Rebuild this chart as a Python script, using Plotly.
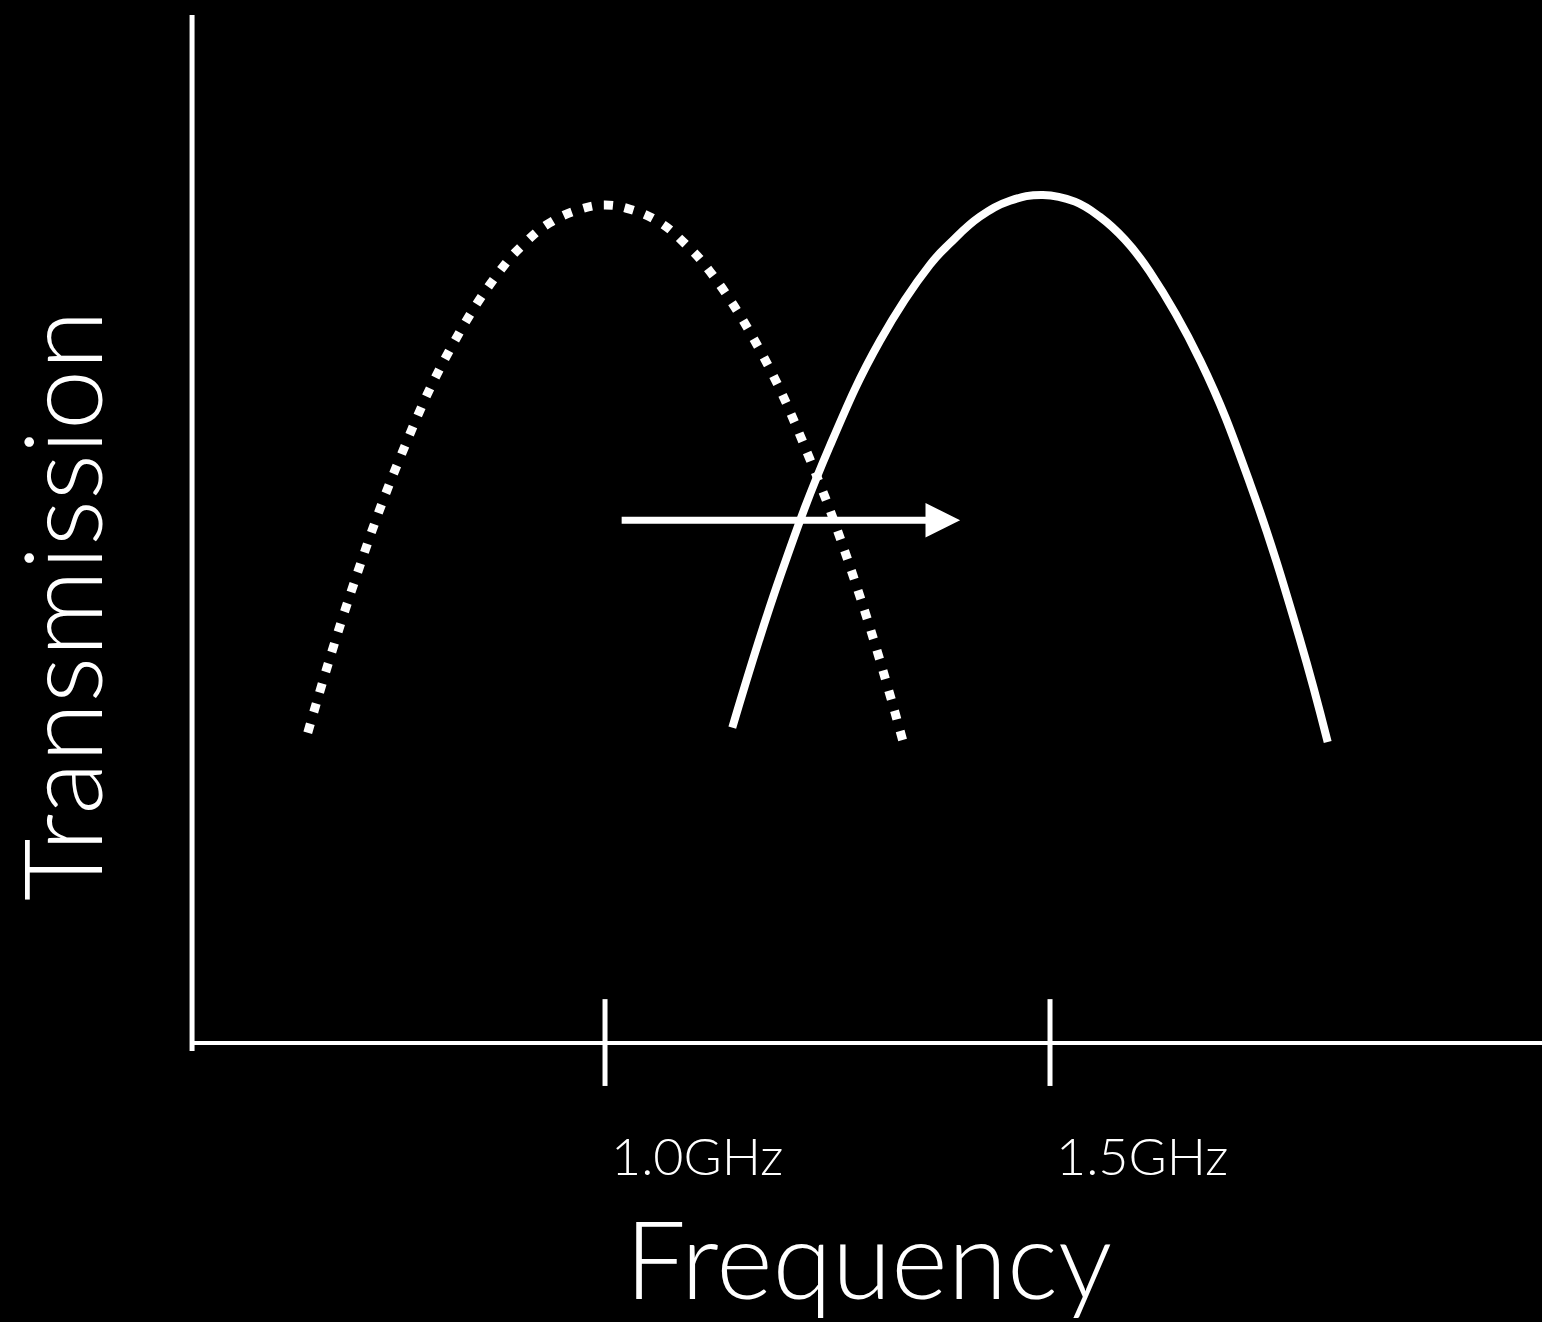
import plotly.graph_objects as go

# Frequency in GHz, transmission in arbitrary units
BEFORE_FREQ = [0.666, 0.714, 0.770, 0.826, 0.882, 0.910, 0.938, 0.972, 1.000,
               1.028, 1.062, 1.090, 1.118, 1.174, 1.230, 1.287, 1.335]
BEFORE_TRANS = [0.368, 0.533, 0.695, 0.823, 0.916, 0.949, 0.973, 0.989, 0.994,
                0.989, 0.973, 0.948, 0.915, 0.822, 0.693, 0.528, 0.357]

AFTER_FREQ = [1.143, 1.197, 1.253, 1.309, 1.365, 1.388, 1.421, 1.455, 1.492,
              1.528, 1.556, 1.584, 1.612, 1.669, 1.725, 1.781, 1.812]
AFTER_TRANS = [0.374, 0.554, 0.709, 0.833, 0.923, 0.949, 0.980, 0.999, 1.006,
               0.998, 0.980, 0.953, 0.915, 0.809, 0.663, 0.478, 0.357]

TICK_VALUES = [1.0, 1.5]
TICK_LABELS = ["1.0GHz", "1.5GHz"]

SHIFT_FROM = 1.017
SHIFT_TO = 1.399
SHIFT_LEVEL = 0.620

X_RANGE = [0.3202, 2.0528]
Y_RANGE = [-0.331, 1.2372]
AXIS_X0 = 0.536
AXIS_TOP = 1.2195

FONT = "Lato, 'Open Sans', sans-serif"
WHITE = "#ffffff"

fig = go.Figure()

# axis lines
fig.add_trace(go.Scatter(x=[AXIS_X0, AXIS_X0], y=[-0.0095, AXIS_TOP], mode="lines",
                         line=dict(color=WHITE, width=5), hoverinfo="skip"))
fig.add_trace(go.Scatter(x=[AXIS_X0, X_RANGE[1]], y=[0, 0], mode="lines",
                         line=dict(color=WHITE, width=4), hoverinfo="skip"))

# crossing tick marks
tx, ty = [], []
for v in TICK_VALUES:
    tx += [v, v, None]
    ty += [0.052, -0.051, None]
fig.add_trace(go.Scatter(x=tx, y=ty, mode="lines",
                         line=dict(color=WHITE, width=5), hoverinfo="skip"))

# passband before the shift (dotted) and after (solid)
fig.add_trace(go.Scatter(x=BEFORE_FREQ, y=BEFORE_TRANS, mode="lines",
                         line=dict(color=WHITE, width=9, dash="9px,12px",
                                   shape="spline", smoothing=1.2),
                         hoverinfo="skip"))
fig.add_trace(go.Scatter(x=AFTER_FREQ, y=AFTER_TRANS, mode="lines",
                         line=dict(color=WHITE, width=8, shape="spline", smoothing=1.2),
                         hoverinfo="skip"))

annotations = []
for v, lab in zip(TICK_VALUES, TICK_LABELS):
    annotations.append(dict(x=v + 0.1034, y=-0.133, xref="x", yref="y", text=lab,
                            showarrow=False, xanchor="center", yanchor="middle",
                            font=dict(family=FONT, size=52, color=WHITE, weight=300)))

annotations.append(dict(x=1.2966, y=-0.254, xref="x", yref="y", text="Frequency",
                        showarrow=False, xanchor="center", yanchor="middle",
                        font=dict(family=FONT, size=108, color=WHITE, weight=300)))
annotations.append(dict(x=0.3876, y=0.5196, xref="x", yref="y", text="Transmission",
                        showarrow=False, xanchor="center", yanchor="middle", textangle=-90,
                        font=dict(family=FONT, size=108, color=WHITE, weight=300)))

# shift arrow
annotations.append(dict(x=SHIFT_TO, y=SHIFT_LEVEL, ax=SHIFT_FROM, ay=SHIFT_LEVEL,
                        xref="x", yref="y", axref="x", ayref="y", text="",
                        showarrow=True, arrowhead=2, arrowsize=0.99, arrowwidth=7,
                        arrowcolor=WHITE))

fig.update_layout(
    width=1542, height=1322,
    margin=dict(l=0, r=0, t=0, b=0),
    paper_bgcolor="#000000", plot_bgcolor="#000000",
    showlegend=False,
    xaxis=dict(range=X_RANGE, visible=False, fixedrange=True),
    yaxis=dict(range=Y_RANGE, visible=False, fixedrange=True),
    annotations=annotations,
)

fig.write_html("out.html", config={"displayModeBar": False})
